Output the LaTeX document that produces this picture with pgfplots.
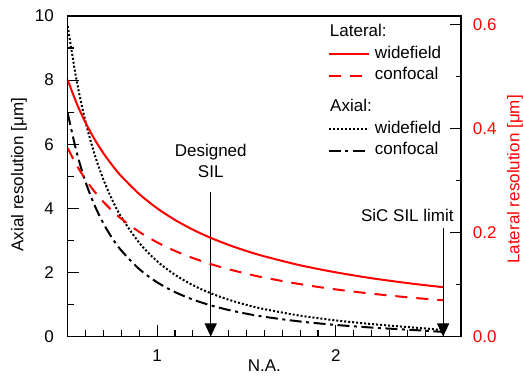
\documentclass[border=0pt]{standalone}
\usepackage{pgfplots}
\pgfplotsset{compat=1.18}
\usepackage{pgfplotstable}
\usepackage{fontspec}
\setmainfont{Liberation Sans}
\usetikzlibrary{arrows.meta}
\definecolor{myred}{RGB}{255,0,0}

\pgfplotstableread{
na   axwf  axcf  latwf  latcf
0.50 9.681 6.970 0.4930 0.3620
0.55 7.985 5.749 0.4482 0.3291
0.60 6.695 4.820 0.4108 0.3017
0.65 5.691 4.098 0.3792 0.2785
0.70 4.894 3.524 0.3521 0.2586
0.75 4.251 3.061 0.3287 0.2413
0.80 3.725 2.682 0.3081 0.2263
0.90 2.924 2.105 0.2739 0.2011
1.00 2.350 1.692 0.2465 0.1810
1.10 1.925 1.386 0.2241 0.1645
1.20 1.602 1.153 0.2054 0.1508
1.30 1.350 0.972 0.1896 0.1392
1.40 1.149 0.827 0.1761 0.1293
1.50 0.987 0.711 0.1643 0.1207
1.60 0.854 0.615 0.1541 0.1131
1.80 0.650 0.468 0.1369 0.1006
2.00 0.502 0.361 0.1233 0.0905
2.20 0.388 0.279 0.1120 0.0823
2.40 0.295 0.213 0.1027 0.0754
2.50 0.252 0.181 0.0986 0.0724
2.60 0.197 0.142 0.0948 0.0696
}\datatable

\begin{document}
\fontsize{17bp}{21bp}\selectfont
\begin{tikzpicture}
\pgfplotsset{
  common/.style={
    scale only axis, width=393.3bp, height=320.5bp,
    xmin=0.5, xmax=2.7,
    axis line style={line width=1.1bp},
    every tick/.style={line width=1.1bp, black},
    major tick length=11bp, minor tick length=6bp,
    tick align=inside,
    /pgf/number format/assume math mode=true,
    ticklabel style={font=\fontsize{17bp}{21bp}\selectfont},
    legend cell align=left,
    legend image code/.code={\draw[##1] (0bp,0bp) -- (40bp,0bp);},
    legend style={draw=none, fill=none, inner sep=0pt, outer sep=0pt,
      row sep=0pt, column sep=3bp, anchor=north west,
      nodes={inner xsep=2bp, inner ysep=2.75bp, text height=12bp, text depth=4bp},
      font=\fontsize{17bp}{21bp}\selectfont},
  }
}
\begin{axis}[common,
  ymin=0, ymax=10,
  xtick={1,2}, minor xtick={0.6,0.7,0.8,0.9,1.1,1.2,1.3,1.4,1.5,1.6,1.7,1.8,1.9,2.1,2.2,2.3,2.4,2.5,2.6},
  ytick={0,2,4,6,8,10}, minor ytick={1,3,5,7,9},
  xtick pos=bottom, ytick pos=left,
  xticklabel style={yshift=-7bp},
  yticklabel style={xshift=-8bp},
  xlabel={N.A.}, xlabel style={at={(axis description cs:0.5,0)}, anchor=center, yshift=-29.5bp},
  ylabel={Axial resolution [μm]}, ylabel style={at={(axis description cs:-0.124,0.505)}, anchor=center},
  legend style={at={(axis description cs:0.6618,0.7465)}},
]
\addlegendimage{empty legend}\addlegendentry{\hspace{-45bp}Axial:}
\addplot[black, line width=2bp, dash pattern=on 2bp off 2bp, smooth] table[x=na, y=axwf] {\datatable};
\addlegendentry{widefield}
\addplot[black, line width=2bp, dash pattern=on 12bp off 4.5bp on 3bp off 4.5bp, smooth] table[x=na, y=axcf] {\datatable};
\addlegendentry{confocal}
\coordinate (sw) at (rel axis cs:0,0);
\coordinate (ne) at (rel axis cs:1,1);
\draw[line width=1bp, -{Triangle[width=12bp,length=13bp]}] (axis cs:1.3,4.52) -- (axis cs:1.3,0);
\draw[line width=1bp, -{Triangle[width=12bp,length=13bp]}] (axis cs:2.6,3.39) -- (axis cs:2.6,0);
\node[align=center, inner sep=0pt] at (axis cs:1.3,5.47) {Designed\\SIL};
\node[inner sep=0pt] at (axis cs:2.40,3.79) {SiC SIL limit};
\end{axis}
\begin{axis}[common,
  ymin=0, ymax=0.616,
  axis x line=none, axis y line*=right,
  ytick={0,0.2,0.4,0.6}, minor ytick={0.1,0.3,0.5},
  minor tick length=5bp,
  ytick pos=right,
  yticklabel style={myred, xshift=6bp, /pgf/number format/.cd, fixed, fixed zerofill, precision=1},
  ylabel={Lateral resolution [μm]},
  ylabel style={myred, at={(axis description cs:1.1373,0.49)}, anchor=center},
  legend style={at={(axis description cs:0.6618,0.9805)}},
]
\addlegendimage{empty legend}\addlegendentry{\hspace{-45bp}Lateral:}
\addplot[myred, line width=2bp, smooth] table[x=na, y=latwf] {\datatable};
\addlegendentry{widefield}
\addplot[myred, line width=2bp, dash pattern=on 12bp off 9bp, smooth] table[x=na, y=latcf] {\datatable};
\addlegendentry{confocal}
\end{axis}
\pgfresetboundingbox
\path ([shift={(-67.7bp,-39.5bp)}]sw) rectangle ([shift={(62bp,16bp)}]ne);
\end{tikzpicture}
\end{document}
